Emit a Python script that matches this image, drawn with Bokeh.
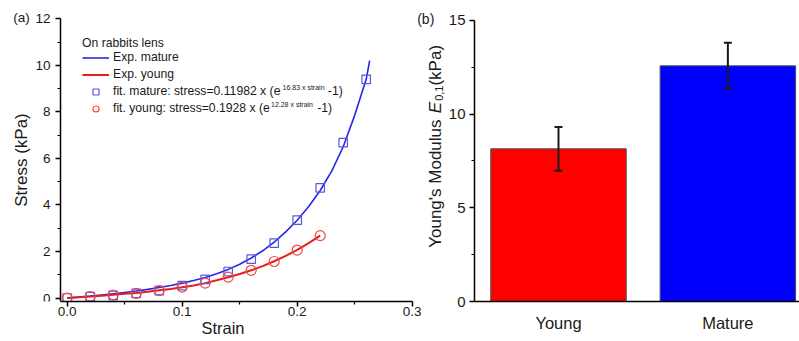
import math
from bokeh.plotting import figure
from bokeh.layouts import row
from bokeh.models import (Range1d, FixedTicker, PrintfTickFormatter, Legend, LegendItem,
                          Label, Whisker, ColumnDataSource, TeeHead)
from bokeh.embed import file_html
from bokeh.resources import INLINE

FONT = "Liberation Sans"
TXT = "#1a1a1a"

# ---------------- data ----------------
# panel (a): experimental curves
strain_exp_mature = [0.00, 0.01, 0.02, 0.03, 0.04, 0.05, 0.06, 0.07, 0.08, 0.09, 0.10, 0.11, 0.12,
                     0.13, 0.14, 0.15, 0.16, 0.17, 0.18, 0.19, 0.20, 0.21, 0.22, 0.23, 0.24, 0.25,
                     0.26, 0.263]
stress_exp_mature = [0.00, 0.04, 0.08, 0.13, 0.18, 0.24, 0.30, 0.37, 0.45, 0.54, 0.64, 0.75, 0.88,
                     1.04, 1.23, 1.45, 1.72, 2.03, 2.40, 2.84, 3.34, 3.93, 4.62, 5.45, 6.50, 7.85,
                     9.40, 10.20]
strain_exp_young = [0.00, 0.01, 0.02, 0.03, 0.04, 0.05, 0.06, 0.07, 0.08, 0.09, 0.10, 0.11, 0.12,
                    0.13, 0.14, 0.15, 0.16, 0.17, 0.18, 0.19, 0.20, 0.21, 0.22]
stress_exp_young = [0.00, 0.03, 0.06, 0.10, 0.14, 0.18, 0.22, 0.27, 0.33, 0.39, 0.46, 0.54, 0.64,
                    0.76, 0.89, 1.03, 1.19, 1.37, 1.58, 1.81, 2.07, 2.36, 2.68]
# panel (a): fit markers
strain_fit_mature = [0.00, 0.02, 0.04, 0.06, 0.08, 0.10, 0.12, 0.14, 0.16, 0.18, 0.20, 0.22, 0.24, 0.26]
stress_fit_mature = [0.00, 0.06, 0.11, 0.20, 0.32, 0.53, 0.80, 1.14, 1.67, 2.36, 3.35, 4.73, 6.68, 9.40]
strain_fit_young = [0.00, 0.02, 0.04, 0.06, 0.08, 0.10, 0.12, 0.14, 0.16, 0.18, 0.20, 0.22]
stress_fit_young = [0.00, 0.06, 0.13, 0.20, 0.32, 0.47, 0.64, 0.90, 1.19, 1.57, 2.06, 2.68]

x_ticks_a = [0.0, 0.1, 0.2, 0.3]
x_minor_a = [0.05, 0.15, 0.25]
y_ticks_a = [0, 2, 4, 6, 8, 10, 12]
y_minor_a = [1, 3, 5, 7, 9, 11]

legend_title = "On rabbits lens"
legend_labels = ["Exp. mature", "Exp. young",
                 "fit. mature: stress=0.11982 x (e", "fit. young: stress=0.1928 x (e"]
legend_sups = ["16.83 x strain", "12.28 x strain"]
legend_tail = "-1)"

# panel (b)
groups = ["Young", "Mature"]
modulus = [8.15, 12.58]
modulus_err = [1.17, 1.23]
bar_colors = ["#ff0000", "#0000ff"]
y_ticks_b = [0, 5, 10, 15]
y_minor_b = [2.5, 7.5, 12.5]

# Arial / Liberation Sans advance widths (per 1000 em) for composing texts
W = {' ': 278, '\u00a0': 278, '(': 333, ')': 333, '-': 333, '.': 278, ',': 278, ':': 278,
     '=': 584, 'x': 500, 's': 500, 't': 278, 'r': 333, 'a': 556, 'i': 222, 'n': 556, 'e': 556,
     'f': 278, 'm': 833, 'u': 556, 'y': 500, 'o': 556, 'g': 556, 'Y': 667, "'": 191, 'M': 833,
     'd': 556, 'l': 222, 'k': 500, 'P': 667, 'E': 667}


def text_w(s, size):
    return sum(W.get(c, 556) for c in s) * size / 1000.0


def style_axis(ax, tick_size):
    ax.axis_line_color = "black"
    ax.axis_line_width = 1.5
    ax.major_tick_line_color = "black"
    ax.major_tick_line_width = 1.5
    ax.minor_tick_line_color = "black"
    ax.minor_tick_line_width = 1.2
    ax.major_tick_in = 0
    ax.major_tick_out = 5
    ax.minor_tick_in = 0
    ax.minor_tick_out = 3
    ax.major_label_text_font = FONT
    ax.major_label_text_font_size = tick_size
    ax.major_label_text_color = TXT
    ax.axis_label_text_font = FONT
    ax.axis_label_text_font_style = "normal"
    ax.axis_label_text_color = TXT


H = 340
TOP, BOT = 9, 39                  # same borders for both panels (row aligns the frames)
FB = H - BOT                      # frame bottom, in page pixels

# ---------------- panel (a) ----------------
# frame spans the whole figure width; the y axis is drawn at a fixed x location
W1 = 445
x_start_a, x_end_a = -0.058, 0.32896
y_start_a, y_end_a = -0.150, 12.40
x_axis_pos = -0.00583
p1 = figure(width=W1, height=H, x_range=Range1d(x_start_a, x_end_a),
            y_range=Range1d(y_start_a, y_end_a),
            output_backend="svg", toolbar_location=None,
            min_border_left=0, min_border_right=0, min_border_top=TOP, min_border_bottom=BOT)
p1.outline_line_color = None
p1.grid.visible = False

lm = p1.line(strain_exp_mature, stress_exp_mature, line_color="#2626e8", line_width=1.6)
ly = p1.line(strain_exp_young, stress_exp_young, line_color="#e81c1c", line_width=2)
sq = p1.scatter(strain_fit_mature, stress_fit_mature, marker="square", size=8.5,
                line_color="#5656e0", fill_color=None, line_width=1.2)
ci = p1.scatter(strain_fit_young, stress_fit_young, marker="circle", size=10,
                line_color="#f04848", fill_color=None, line_width=1.2)

xa = p1.xaxis[0]
ya = p1.yaxis[0]
style_axis(xa, "13.5px")
style_axis(ya, "13.5px")
xa.ticker = FixedTicker(ticks=x_ticks_a, minor_ticks=x_minor_a)
xa.formatter = PrintfTickFormatter(format="%.1f")
xa.bounds = (x_axis_pos, x_ticks_a[-1])
xa.major_label_standoff = 0
xa.axis_label = "Strain"
xa.axis_label_text_font_size = "16.5px"
xa.axis_label_standoff = 0
ya.ticker = FixedTicker(ticks=y_ticks_a, minor_ticks=y_minor_a)
ya.formatter = PrintfTickFormatter(format="%d")
ya.bounds = (y_start_a, y_ticks_a[-1])
ya.fixed_location = x_axis_pos
ya.major_label_standoff = 5
ya.axis_label = "Stress (kPa)"
ya.axis_label_text_font_size = "17px"
ya.axis_label_standoff = 1

# legend (placed by its bottom-left corner, in pixels from the frame's bottom-left)
L_X, L_TOP = 82, 36               # left edge and top edge of the legend box (page pixels)
L_GW, L_GH, L_STAND, L_SPACE, L_TSTAND = 27, 15, 4, 2, 0
LFS = 12.2
TITLE_H = 1.117 * LFS
L_HEIGHT = TITLE_H + L_TSTAND + 4 * L_GH + 3 * L_SPACE
GAP = "\u00a0" * 14
legend = Legend(items=[LegendItem(label=legend_labels[0], renderers=[lm]),
                       LegendItem(label=legend_labels[1], renderers=[ly]),
                       LegendItem(label=legend_labels[2] + GAP + legend_tail, renderers=[sq]),
                       LegendItem(label=legend_labels[3] + GAP + legend_tail, renderers=[ci])],
                location=(L_X, FB - L_TOP - L_HEIGHT), title=legend_title,
                margin=0, padding=0,
                glyph_width=L_GW, glyph_height=L_GH, label_height=L_GH, label_standoff=L_STAND,
                spacing=L_SPACE, title_standoff=L_TSTAND,
                label_text_font=FONT, label_text_font_size=f"{LFS}px", label_text_color=TXT,
                title_text_font=FONT, title_text_font_size=f"{LFS}px",
                title_text_font_style="normal", title_text_color=TXT,
                border_line_color=None, background_fill_alpha=0)
p1.add_layout(legend)

# superscripts of the two fit formulas
text_x0 = L_X + L_GW + L_STAND
for k in range(2):
    idx = 2 + k
    row_c = L_TOP + TITLE_H + L_TSTAND + L_GH / 2.0 + idx * (L_GH + L_SPACE)
    sx_sup = text_x0 + text_w(legend_labels[idx], LFS) + 0.5
    p1.add_layout(Label(x=sx_sup, y=FB - row_c + 4.5, x_units="screen", y_units="screen",
                        text=legend_sups[k], text_font=FONT, text_font_size="7px",
                        text_baseline="middle", text_color=TXT))

p1.add_layout(Label(x=12.7, y=FB - 17.3, x_units="screen", y_units="screen", text="(a)",
                    text_font=FONT, text_font_size="13.5px", text_baseline="middle",
                    text_color=TXT))

# "(b)" and the rotated y title of panel (b), which lie in this frame's right strip
p1.add_layout(Label(x=416.7, y=FB - 18.3, x_units="screen", y_units="screen",
                    text="(b)", text_font=FONT, text_font_size="14px", text_baseline="middle",
                    text_color=TXT))
YL_SIZE = 17
pieces = [("Young's Modulus ", YL_SIZE, "normal", 0),
          ("E", YL_SIZE, "italic", 0),
          ("0,1", 11, "normal", 3.5),
          (" (kPa)", YL_SIZE, "normal", 0)]
total = sum(text_w(t, s) for t, s, _, _ in pieces) + 1.0
sy = FB - 143.5 - total / 2.0
for t, s, st, dx in pieces:
    p1.add_layout(Label(x=435 + dx, y=sy, x_units="screen", y_units="screen", text=t,
                        angle=math.pi / 2, text_font=FONT, text_font_size=f"{s}px",
                        text_font_style=st, text_baseline="alphabetic", text_align="left",
                        text_color=TXT))
    sy += text_w(t, s) + (1.0 if t == "E" else 0)

# ---------------- panel (b) ----------------
p2 = figure(width=799 - W1, height=H, x_range=Range1d(0.004, 1.923), y_range=Range1d(0, 15.587),
            output_backend="svg", toolbar_location=None,
            min_border_left=472 - W1, min_border_right=0, min_border_top=TOP, min_border_bottom=BOT)
p2.outline_line_color = None
p2.grid.visible = False

xpos = [i + 0.5 for i in range(len(groups))]
src = ColumnDataSource(dict(x=xpos, top=modulus, color=bar_colors,
                            upper=[m + e for m, e in zip(modulus, modulus_err)],
                            lower=[m - e for m, e in zip(modulus, modulus_err)]))
p2.vbar(x="x", top="top", bottom=0, width=0.8, fill_color="color", line_color="#505050",
        line_width=1, source=src)
p2.add_layout(Whisker(base="x", upper="upper", lower="lower", source=src, level="overlay",
                      line_color=TXT, line_width=2,
                      upper_head=TeeHead(size=8, line_width=2, line_color=TXT),
                      lower_head=TeeHead(size=8, line_width=2, line_color=TXT)))

xb = p2.xaxis[0]
yb = p2.yaxis[0]
style_axis(xb, "16.5px")
style_axis(yb, "15px")
xb.ticker = FixedTicker(ticks=xpos, minor_ticks=[])
xb.major_label_overrides = {x: g for x, g in zip(xpos, groups)}
xb.major_tick_out = 0
xb.minor_tick_out = 0
xb.major_label_standoff = 12
yb.ticker = FixedTicker(ticks=y_ticks_b, minor_ticks=y_minor_b)
yb.formatter = PrintfTickFormatter(format="%d")
yb.bounds = (y_ticks_b[0], y_ticks_b[-1])
yb.major_label_standoff = 4

layout = row(p1, p2)
open("out.html", "w").write(file_html(layout, INLINE))
